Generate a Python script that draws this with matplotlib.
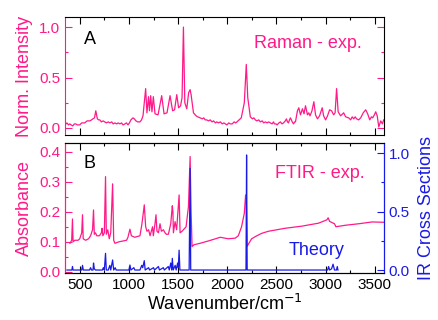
import matplotlib
matplotlib.use("Agg")
import matplotlib.pyplot as plt
from matplotlib.ticker import MultipleLocator

plt.rcParams['font.family'] = ['Liberation Sans', 'DejaVu Sans']

PINK = '#FF1A88'
BLUE = '#1A1AE6'

# Raman spectrum (panel A), (wavenumber, intensity)
raman_points = [
    (350, 0.03), (370, 0.05), (385, 0.03), (398, 0.04), (412, 0.03), (429, 0.02),
    (445, 0.04), (459, 0.04), (475, 0.03), (500, 0.03), (520, 0.05), (551, 0.05),
    (575, 0.07), (602, 0.07), (620, 0.08), (633, 0.09), (650, 0.10), (663, 0.17),
    (679, 0.09), (692, 0.08), (704, 0.08), (720, 0.06), (738, 0.07), (755, 0.06),
    (770, 0.05), (790, 0.06), (806, 0.05), (825, 0.06), (840, 0.04), (857, 0.05),
    (875, 0.04), (890, 0.05), (908, 0.04), (925, 0.05), (940, 0.03), (959, 0.04),
    (975, 0.05), (990, 0.03), (1005, 0.05), (1020, 0.08), (1041, 0.10), (1055, 0.09),
    (1071, 0.07), (1090, 0.06), (1112, 0.06), (1128, 0.08), (1143, 0.12), (1170, 0.39),
    (1183, 0.15), (1199, 0.31), (1209, 0.17), (1221, 0.32), (1234, 0.16), (1248, 0.31),
    (1265, 0.14), (1296, 0.13), (1333, 0.32), (1357, 0.14), (1387, 0.15), (1418, 0.32),
    (1444, 0.17), (1464, 0.18), (1486, 0.33), (1505, 0.20), (1525, 0.22), (1540, 0.30),
    (1554, 1.00), (1568, 0.25), (1588, 0.19), (1607, 0.35), (1622, 0.38), (1632, 0.33),
    (1656, 0.15), (1683, 0.12), (1700, 0.11), (1724, 0.10), (1745, 0.09), (1760, 0.10),
    (1775, 0.08), (1790, 0.08), (1810, 0.07), (1826, 0.08), (1845, 0.06), (1860, 0.07),
    (1880, 0.05), (1894, 0.06), (1910, 0.05), (1930, 0.06), (1948, 0.04), (1965, 0.05),
    (1980, 0.04), (1996, 0.03), (2015, 0.05), (2030, 0.04), (2050, 0.04), (2070, 0.06),
    (2085, 0.05), (2098, 0.06), (2120, 0.08), (2142, 0.10), (2173, 0.25), (2193, 0.63),
    (2208, 0.30), (2234, 0.11), (2255, 0.09), (2270, 0.10), (2285, 0.08), (2300, 0.07),
    (2320, 0.08), (2336, 0.06), (2355, 0.07), (2370, 0.05), (2387, 0.06), (2405, 0.05),
    (2420, 0.06), (2438, 0.05), (2455, 0.04), (2470, 0.06), (2479, 0.04), (2495, 0.04),
    (2506, 0.03), (2525, 0.05), (2540, 0.06), (2556, 0.04), (2571, 0.05), (2590, 0.07),
    (2601, 0.09), (2612, 0.06), (2622, 0.05), (2632, 0.08), (2642, 0.10), (2660, 0.06),
    (2673, 0.04), (2685, 0.06), (2693, 0.06), (2713, 0.17), (2727, 0.20), (2744, 0.13),
    (2764, 0.19), (2780, 0.14), (2795, 0.22), (2815, 0.13), (2828, 0.15), (2841, 0.12),
    (2861, 0.17), (2880, 0.26), (2897, 0.13), (2917, 0.09), (2938, 0.12), (2965, 0.20),
    (2979, 0.12), (2999, 0.08), (3019, 0.12), (3040, 0.18), (3060, 0.17), (3081, 0.13),
    (3096, 0.15), (3111, 0.39), (3127, 0.16), (3152, 0.12), (3183, 0.15), (3203, 0.11),
    (3234, 0.10), (3254, 0.08), (3270, 0.11), (3285, 0.09), (3300, 0.11), (3315, 0.09),
    (3335, 0.08), (3356, 0.10), (3382, 0.15), (3407, 0.18), (3427, 0.14), (3448, 0.08),
    (3465, 0.11), (3478, 0.10), (3495, 0.13), (3509, 0.16), (3524, 0.12), (3540, 0.01),
    (3560, 0.07), (3577, 0.04), (3590, 0.08),
]
raman_x = [p[0] for p in raman_points]
raman_y = [p[1] for p in raman_points]

# FTIR absorbance (panel B, left axis)
ftir_x = [400, 418, 426, 432, 450, 483, 500, 520, 528, 535, 560, 590, 610, 630, 640, 648,
          660, 673, 700, 720, 727, 735, 750, 762, 770, 785, 800, 815, 834, 845, 857, 900,
          976, 990, 1010, 1025, 1060, 1112, 1130, 1140, 1156, 1170, 1183, 1200, 1215,
          1240, 1248, 1265, 1275, 1285, 1300, 1316, 1330, 1350, 1367, 1380, 1401, 1425,
          1441, 1447, 1452, 1469, 1485, 1510, 1520, 1540, 1581, 1605, 1622, 1632, 1642,
          1660, 1724, 1800, 1860, 1928, 2010, 2080, 2112, 2145, 2173, 2186, 2193, 2200,
          2247, 2300, 2349, 2418, 2588, 2757, 2928, 3012, 3025, 3040, 3070, 3090, 3104,
          3200, 3336, 3471, 3590]
ftir_y = [0.095, 0.105, 0.176, 0.10, 0.105, 0.105, 0.11, 0.13, 0.19, 0.11, 0.105, 0.11,
          0.12, 0.14, 0.206, 0.125, 0.13, 0.12, 0.12, 0.13, 0.145, 0.12, 0.13, 0.317,
          0.125, 0.14, 0.11, 0.13, 0.293, 0.105, 0.095, 0.10, 0.105, 0.115, 0.142, 0.12,
          0.115, 0.12, 0.155, 0.18, 0.223, 0.15, 0.135, 0.14, 0.12, 0.15, 0.12, 0.16,
          0.19, 0.135, 0.13, 0.16, 0.135, 0.14, 0.13, 0.125, 0.125, 0.16, 0.22, 0.20,
          0.13, 0.167, 0.14, 0.256, 0.13, 0.135, 0.15, 0.217, 0.384, 0.20, 0.084, 0.09,
          0.095, 0.102, 0.108, 0.115, 0.11, 0.112, 0.12, 0.15, 0.195, 0.256, 0.24, 0.084,
          0.11, 0.12, 0.128, 0.135, 0.145, 0.152, 0.162, 0.173, 0.18, 0.168, 0.163, 0.16,
          0.15, 0.155, 0.16, 0.166, 0.165]

# calculated IR cross sections (panel B, right axis)
theory_x = [370, 420, 426, 432, 520, 528, 536, 600, 610, 620, 635, 640, 648, 660, 730,
            740, 750, 762, 770, 790, 806, 815, 834, 845, 860, 870, 1000, 1010, 1020, 1050,
            1060, 1112, 1130, 1140, 1156, 1165, 1200, 1210, 1250, 1260, 1300, 1310, 1350,
            1360, 1400, 1410, 1425, 1435, 1441, 1450, 1470, 1480, 1495, 1502, 1510, 1518,
            1612, 1622, 1628, 2190, 2196, 2202, 3020, 3030, 3040, 3060, 3075, 3090, 3110,
            3118, 3125]
theory_y = [0.0, 0.0, 0.03, 0.0, 0.0, 0.04, 0.0, 0.0, 0.02, 0.0, 0.0, 0.06, 0.01, 0.0,
            0.0, 0.02, 0.0, 0.143, 0.0, 0.0, 0.04, 0.0, 0.086, 0.0, 0.02, 0.0, 0.0, 0.043,
            0.0, 0.02, 0.0, 0.0, 0.04, 0.02, 0.08, 0.0, 0.02, 0.0, 0.02, 0.0, 0.03, 0.0,
            0.02, 0.0, 0.03, 0.0, 0.06, 0.0, 0.10, 0.0, 0.04, 0.0, 0.06, 0.02, 0.17, 0.0,
            0.0, 0.87, 0.0, 0.0, 0.985, 0.0, 0.0, 0.03, 0.0, 0.01, 0.05, 0.0, 0.0, 0.03,
            0.0]

fig = plt.figure(figsize=(4.38, 3.2), dpi=100)
W, H = 438, 320
ax1 = fig.add_axes([65 / W, 1 - 135 / H, 318.7 / W, 118 / H])
ax2 = fig.add_axes([65 / W, 1 - 273.3 / H, 318.7 / W, 130.6 / H])
ax3 = ax2.twinx()

ax1.plot(raman_x, raman_y, color=PINK, lw=0.9)
ax2.plot(ftir_x, ftir_y, color=PINK, lw=0.9)
ax3.plot(theory_x, theory_y, color=BLUE, lw=0.9)

for ax in (ax1, ax2):
    ax.set_xlim(350, 3590)
    ax.xaxis.set_major_locator(MultipleLocator(500))
    ax.xaxis.set_minor_locator(MultipleLocator(250))
    ax.tick_params(which='both', direction='in', top=True, labelsize=11)
    ax.tick_params(which='major', length=5, width=0.8)
    ax.tick_params(which='minor', length=2.5, width=0.8)
    ax.spines['left'].set_color(PINK)
    ax.tick_params(axis='y', which='both', colors=PINK)

ax1.set_ylim(-0.07, 1.1)
ax1.yaxis.set_major_locator(MultipleLocator(0.5))
ax1.yaxis.set_minor_locator(MultipleLocator(0.25))
ax1.tick_params(axis='y', which='both', right=True)
ax1.tick_params(labelbottom=False)
ax1.set_ylabel('Norm. Intensity', color=PINK, fontsize=13, labelpad=4)
ax1.text(0.078, 0.81, 'A', transform=ax1.transAxes, fontsize=13, ha='center', va='center')
ax1.text(0.762, 0.777, 'Raman - exp.', transform=ax1.transAxes, fontsize=13,
         color=PINK, ha='center', va='center')

ax2.set_ylim(-0.005, 0.43)
ax2.yaxis.set_major_locator(MultipleLocator(0.1))
ax2.yaxis.set_minor_locator(MultipleLocator(0.05))
ax2.set_xlabel('Wavenumber/cm$^{-1}$', fontsize=13, labelpad=1)
ax2.set_ylabel('Absorbance', color=PINK, fontsize=13, labelpad=4)
ax2.text(0.078, 0.842, 'B', transform=ax2.transAxes, fontsize=13, ha='center', va='center')
ax2.text(0.8, 0.766, 'FTIR - exp.', transform=ax2.transAxes, fontsize=13,
         color=PINK, ha='center', va='center')

ax3.set_ylim(-0.028, 1.09)
ax3.yaxis.set_major_locator(MultipleLocator(0.5))
ax3.yaxis.set_minor_locator(MultipleLocator(0.25))
ax3.tick_params(which='both', direction='in', colors=BLUE, labelsize=11, width=0.8)
ax3.tick_params(which='major', length=5)
ax3.tick_params(which='minor', length=2.5)
ax3.spines['right'].set_color(BLUE)
ax3.spines['left'].set_color(PINK)
ax3.set_ylabel('IR Cross Sections', color=BLUE, fontsize=13, labelpad=6)
ax3.text(0.79, 0.178, 'Theory', transform=ax3.transAxes, fontsize=13,
         color=BLUE, ha='center', va='center')

fig.savefig('out.png', dpi=100)
